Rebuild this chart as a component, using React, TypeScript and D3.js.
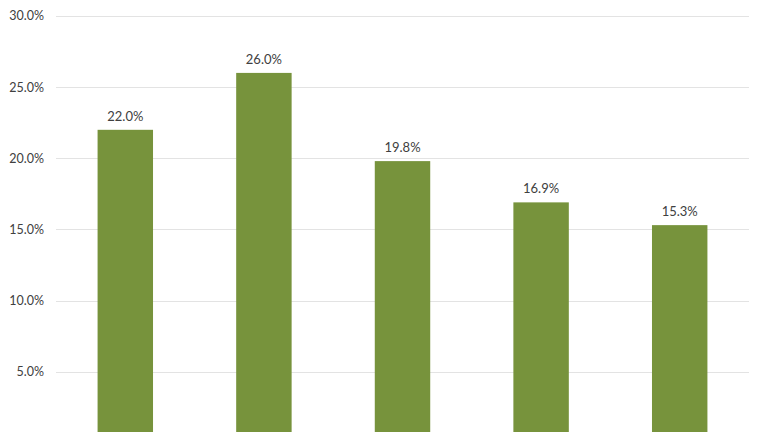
import React from "react";
import * as d3 from "d3";

const categories = ["A", "B", "C", "D", "E"];
const values = [22.0, 26.0, 19.8, 16.9, 15.3];
const ticks = [5, 10, 15, 20, 25, 30];

const W = 764;
const H = 432;

export default function App() {
  const x = d3.scaleBand<string>().domain(categories).range([56, 749]).paddingInner(0.6).paddingOuter(0.3);
  const y = d3.scaleLinear().domain([0, 30]).range([442.8, 16]);
  const font = "Lato, 'DejaVu Sans', sans-serif";
  return (
    <svg width={W} height={H} style={{ position: "absolute", left: 0, top: 0, background: "#fff" }}>
      {ticks.map((t) => (
        <g key={t}>
          <line x1={56} x2={749} y1={Math.round(y(t)) + 0.5} y2={Math.round(y(t)) + 0.5} stroke="#e3e3e3" strokeWidth={1} />
          <text x={44} y={y(t)} dy="0.35em" textAnchor="end" fontFamily={font} fontSize={12.5} fill="#404040">
            {t.toFixed(1)}%
          </text>
        </g>
      ))}
      {categories.map((c, i) => (
        <g key={c}>
          <rect x={x(c)} y={y(values[i])} width={x.bandwidth()} height={y(0) - y(values[i])} fill="#77933c" />
          <text x={(x(c) as number) + x.bandwidth() / 2} y={y(values[i]) - 9} textAnchor="middle" fontFamily={font} fontSize={13} fill="#404040">
            {values[i].toFixed(1)}%
          </text>
        </g>
      ))}
    </svg>
  );
}
